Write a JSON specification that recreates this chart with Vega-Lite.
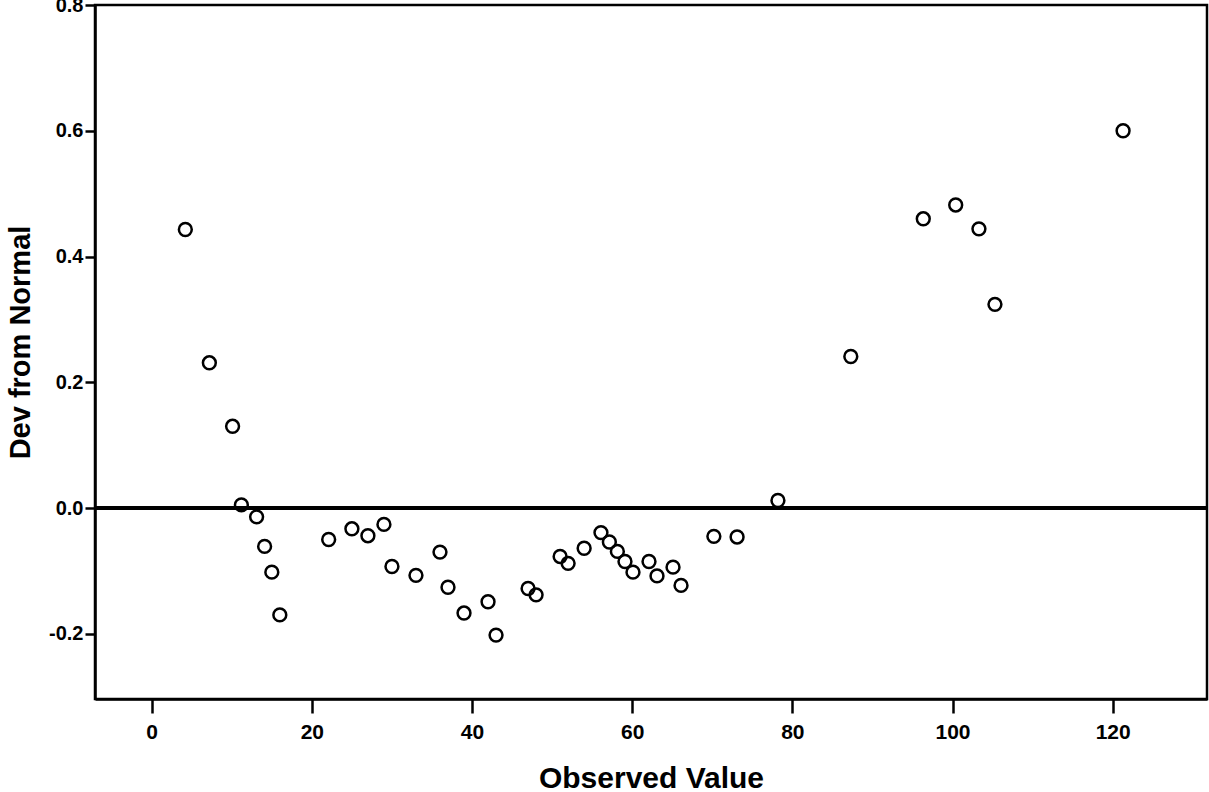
{
  "$schema": "https://vega.github.io/schema/vega-lite/v6.json",
  "width": 1112,
  "height": 694,
  "autosize": "none",
  "padding": {"left": 95, "top": 5, "right": 2, "bottom": 93},
  "background": "white",
  "config": {
    "view": {"stroke": "black", "strokeWidth": 2.5},
    "font": "Liberation Sans",
    "axis": {
      "grid": false,
      "domainColor": "black",
      "domainWidth": 2.5,
      "tickColor": "black",
      "tickWidth": 2.5,
      "labelColor": "black",
      "labelFont": "Liberation Sans",
      "labelFontWeight": "bold",
      "titleColor": "black",
      "titleFont": "Liberation Sans",
      "titleFontWeight": "bold"
    }
  },
  "data": {
    "values": [
      {"observed": 4.2, "dev": 0.443},
      {"observed": 7.2, "dev": 0.231},
      {"observed": 10.1, "dev": 0.130},
      {"observed": 11.2, "dev": 0.005},
      {"observed": 13.1, "dev": -0.014},
      {"observed": 14.1, "dev": -0.061},
      {"observed": 15.0, "dev": -0.102},
      {"observed": 16.0, "dev": -0.170},
      {"observed": 22.1, "dev": -0.050},
      {"observed": 25.0, "dev": -0.033},
      {"observed": 27.0, "dev": -0.044},
      {"observed": 29.0, "dev": -0.026},
      {"observed": 30.0, "dev": -0.093},
      {"observed": 33.0, "dev": -0.107},
      {"observed": 36.0, "dev": -0.070},
      {"observed": 37.0, "dev": -0.126},
      {"observed": 39.0, "dev": -0.167},
      {"observed": 42.0, "dev": -0.149},
      {"observed": 43.0, "dev": -0.202},
      {"observed": 47.0, "dev": -0.128},
      {"observed": 48.0, "dev": -0.138},
      {"observed": 51.0, "dev": -0.077},
      {"observed": 52.0, "dev": -0.088},
      {"observed": 54.0, "dev": -0.064},
      {"observed": 56.1, "dev": -0.039},
      {"observed": 57.15, "dev": -0.054},
      {"observed": 58.15, "dev": -0.069},
      {"observed": 59.1, "dev": -0.085},
      {"observed": 60.1, "dev": -0.102},
      {"observed": 62.1, "dev": -0.085},
      {"observed": 63.1, "dev": -0.108},
      {"observed": 65.1, "dev": -0.094},
      {"observed": 66.1, "dev": -0.123},
      {"observed": 70.2, "dev": -0.045},
      {"observed": 73.1, "dev": -0.046},
      {"observed": 78.2, "dev": 0.012},
      {"observed": 87.3, "dev": 0.241},
      {"observed": 96.35, "dev": 0.460},
      {"observed": 100.4, "dev": 0.482},
      {"observed": 103.3, "dev": 0.444},
      {"observed": 105.3, "dev": 0.324},
      {"observed": 121.3, "dev": 0.600}
    ]
  },
  "layer": [
    {
      "mark": {"type": "rule", "color": "black", "strokeWidth": 2.5},
      "encoding": {"y": {"datum": 0, "type": "quantitative"}}
    },
    {
      "mark": {"type": "point", "shape": "circle", "filled": false, "color": "black", "strokeWidth": 2.5, "size": 165, "opacity": 1},
      "encoding": {
        "x": {
          "field": "observed",
          "type": "quantitative",
          "scale": {"domain": [-7.08, 131.78], "nice": false, "zero": false},
          "axis": {
            "title": "Observed Value",
            "titleFontSize": 30,
            "titleY": 88,
            "titleBaseline": "alphabetic",
            "values": [0, 20, 40, 60, 80, 100, 120],
            "format": "d",
            "labelFontSize": 21,
            "tickSize": 14,
            "labelPadding": 8,
            "labelBaseline": "top"
          }
        },
        "y": {
          "field": "dev",
          "type": "quantitative",
          "scale": {"domain": [-0.3037, 0.8], "nice": false, "zero": false},
          "axis": {
            "title": "Dev from Normal",
            "titleFontSize": 29,
            "titleAngle": -90,
            "titleX": -66,
            "titleY": 337,
            "titleAlign": "center",
            "titleBaseline": "alphabetic",
            "values": [-0.2, 0, 0.2, 0.4, 0.6, 0.8],
            "format": ".1f",
            "labelExpr": "replace(datum.label, '\u2212', '-')",
            "labelFontSize": 20,
            "tickSize": 10,
            "labelPadding": 2
          }
        }
      }
    }
  ]
}
